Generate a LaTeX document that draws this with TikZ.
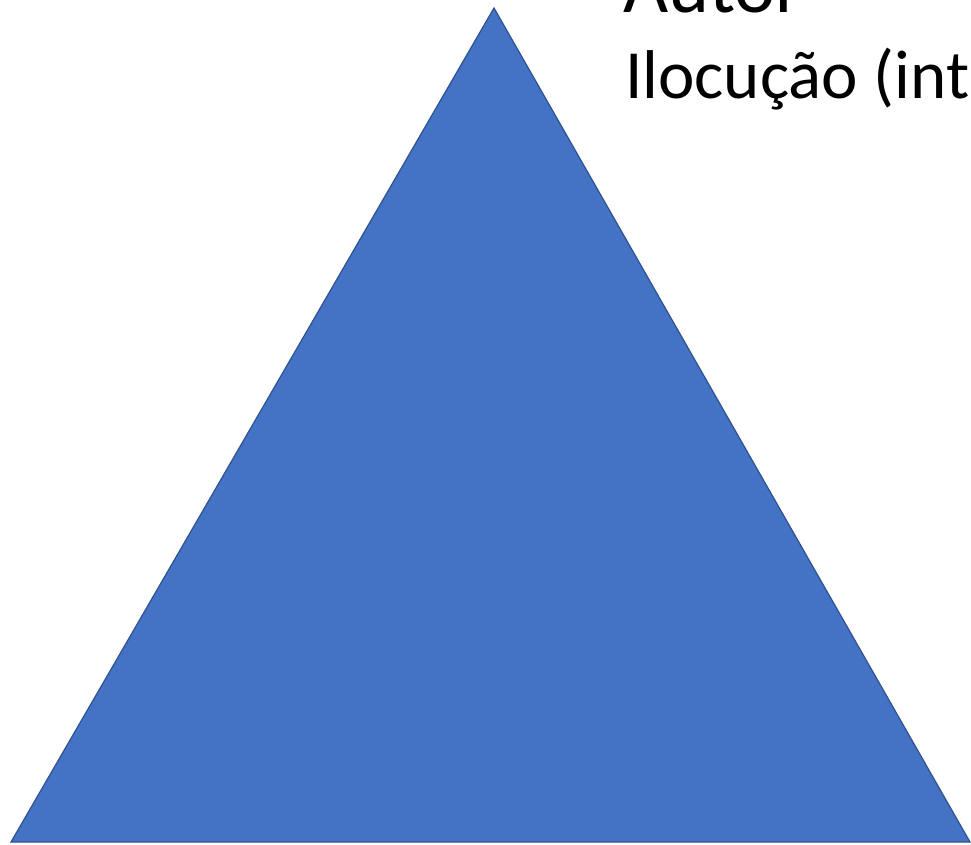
\documentclass[tikz,border=0pt]{standalone}
\usepackage{fontspec}
\setmainfont{Carlito}
\definecolor{triblue}{HTML}{4472C4}
\definecolor{triedge}{HTML}{2F528F}
\begin{document}
\begin{tikzpicture}[x=1pt,y=-1pt,
  tri/.style={fill=triblue,draw=triedge,line width=1.2pt,line join=miter},
  txt/.style={anchor=base west,inner sep=0pt,text=black}]
\useasboundingbox (0,0) rectangle (971,844);
\coordinate (apex) at (494,8);
\coordinate (bl) at (11,842);
\coordinate (br) at (970,842);
\filldraw[tri] (apex) -- (br) -- (bl) -- cycle;
\begin{scope}
\clip (0,0) rectangle (971,844);
\node[txt,font=\fontsize{78}{82}\selectfont] (autor) at (623,12) {Autor};
\node[txt,font=\fontsize{69}{72}\selectfont] (iloc) at (625,98) {Ilocução (int};
\end{scope}
\end{tikzpicture}
\end{document}
